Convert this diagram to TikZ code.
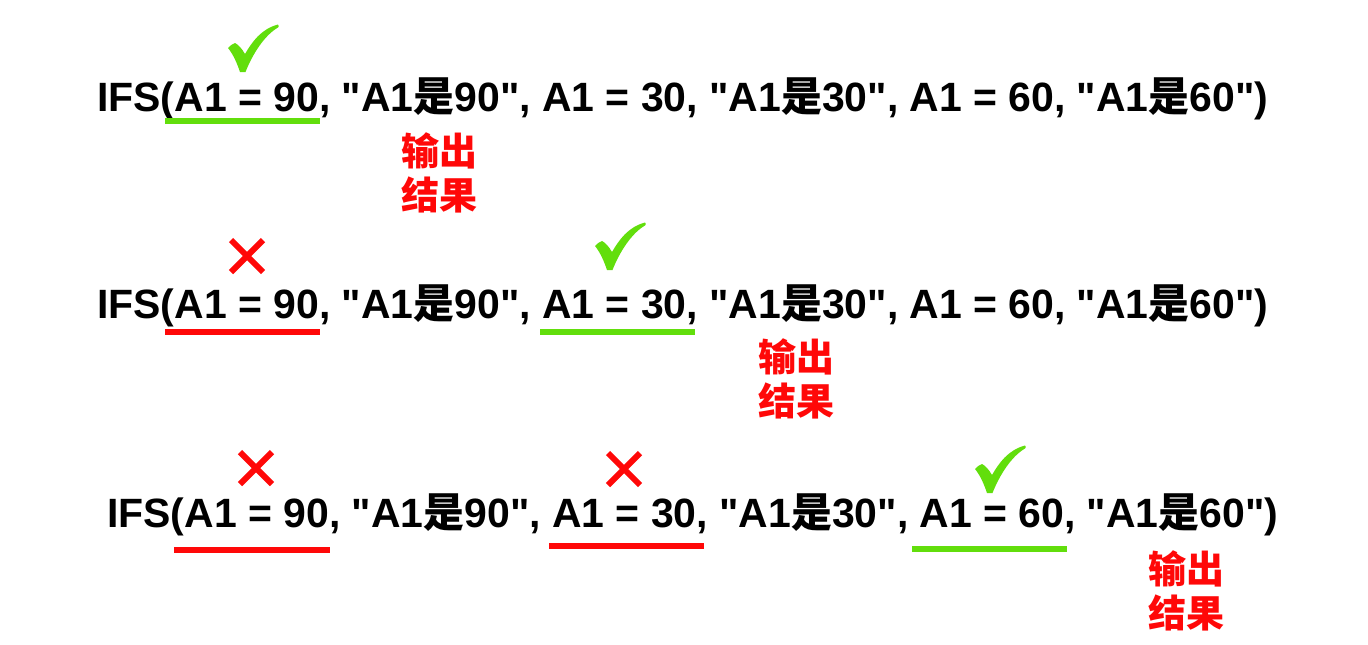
\documentclass[tikz,border=0pt]{standalone}
\usepackage{fontspec}
\setmainfont{Liberation Sans}[Ligatures=TeXOff]
\newfontfamily\cjk{Noto Sans CJK SC}
\usetikzlibrary{positioning}
\definecolor{okgreen}{HTML}{62DE0C}
\definecolor{badred}{HTML}{FF0808}
\tikzset{
  formula/.style={anchor=base west, inner sep=0pt,
    font=\fontsize{30.7}{36}\selectfont\bfseries},
  outlabel/.style={text=badred, align=center, inner sep=0pt,
    font=\fontsize{28.5}{33}\selectfont\cjk\bfseries},
  okline/.style={draw=okgreen, line width=4.5pt},
  badline/.style={draw=badred, line width=4.5pt},
  badmark/.style={draw=badred, line width=4.5pt}
}
\newcommand{\Shi}{{\cjk 是}}
\newcommand{\Wrong}[2]{%
  % #1,#2 = centre of the cross
  \draw[badmark] (#1-16,#2-16) -- (#1+16,#2+16) (#1-16,#2+16) -- (#1+16,#2-16);
}
\newcommand{\Right}[2]{%
  % #1,#2 = top left corner of the tick
  \fill[okgreen, shift={(#1,#2)}]
    (0,23) .. controls (3,20) and (5,18.5) .. (7,18)
    .. controls (11,20) and (14,24) .. (17,29)
    .. controls (24,17) and (33,4) .. (50,-0.5)
    .. controls (51,0.5) and (51,1.5) .. (50,2.5)
    .. controls (37,10) and (25,28) .. (17.5,47)
    -- (12,47) .. controls (9,38) and (5,29) .. (0,23) -- cycle;
}
\begin{document}
\begin{tikzpicture}[x=0.75pt, y=-0.75pt]
  \useasboundingbox (0,0) rectangle (1368,644);

  % first row: the first test holds
  \node[formula] (rowA) at (97,111)
    {IFS(A1 = 90, "A1\Shi90", A1 = 30, "A1\Shi30", A1 = 60, "A1\Shi60")};
  \draw[okline] (165,121) -- (320,121);
  \Right{228}{25}
  \node[outlabel] (outA) at (439,173) {输出\\结果};

  % second row: the second test holds
  \node[formula] (rowB) at (97,318)
    {IFS(A1 = 90, "A1\Shi90", A1 = 30, "A1\Shi30", A1 = 60, "A1\Shi60")};
  \draw[badline] (165,332) -- (320,332);
  \draw[okline] (540,332) -- (695,332);
  \Wrong{247}{256}
  \Right{595}{223}
  \node[outlabel] (outB) at (796,379) {输出\\结果};

  % third row: the third test holds
  \node[formula] (rowC) at (107,527)
    {IFS(A1 = 90, "A1\Shi90", A1 = 30, "A1\Shi30", A1 = 60, "A1\Shi60")};
  \draw[badline] (174,550) -- (330,550);
  \draw[badline] (549,546) -- (704,546);
  \draw[okline] (912,549) -- (1067,549);
  \Wrong{256}{468}
  \Wrong{624}{469}
  \Right{975}{446}
  \node[outlabel] (outC) at (1186,591) {输出\\结果};
\end{tikzpicture}
\end{document}
